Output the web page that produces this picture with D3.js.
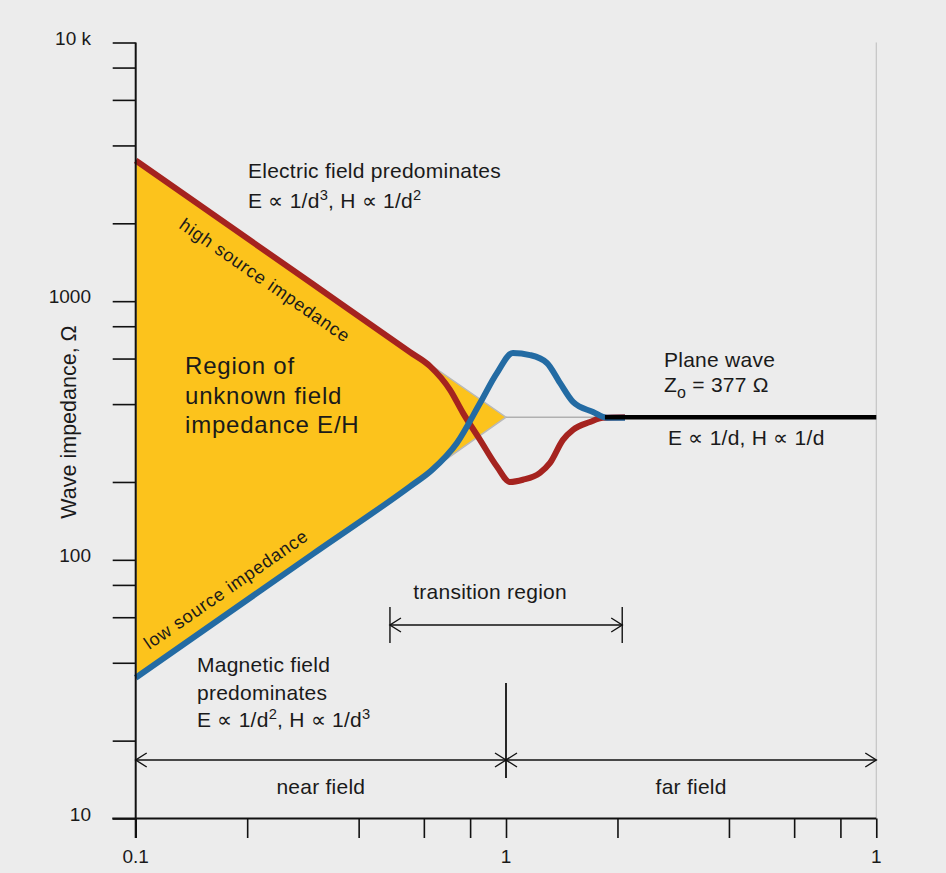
<!DOCTYPE html>
<html><head><meta charset="utf-8">
<script src="https://cdn.jsdelivr.net/npm/d3@7"></script>
<style>
body{margin:0;background:#ececec}
text{font-family:"Liberation Sans",Arial,Helvetica,sans-serif;fill:#1a1a1a}
</style>
</head><body>
<svg id="chart" width="946" height="873"></svg>
<script>
// ---- data ----
const xTickValues = [0.1,0.2,0.4,0.6,0.8,1,2,4,6,8,10];
const xLabelValues = [0.1,1,10];
const xLabelTexts = ["0.1","1","1"];
const yTickValues = [10,20,40,60,80,100,200,400,600,800,1000,2000,4000,6000,8000,10000];
const yLabelValues = [10,100,1000,10000];
const yLabelTexts = ["10","100","1000","10 k"];

const regionDistance = [0.1, 1, 0.1];
const regionImpedance = [3500, 356, 35];

const highSourceDistance = [0.1, 0.3, 0.55, 0.623, 0.706, 0.765, 0.851, 0.946, 1.025, 1.111, 1.235, 1.315, 1.425, 1.517, 1.686, 1.827, 2.096];
const highSourceImpedance = [3500, 1167, 636, 561, 454, 370, 291, 229, 200, 204, 217, 237, 291, 318, 341, 354, 356];

const lowSourceDistance = [0.1, 0.3, 0.55, 0.63, 0.737, 0.851, 0.946, 1.044, 1.161, 1.290, 1.399, 1.517, 1.718, 1.874, 2.096];
const lowSourceImpedance = [35, 105, 192, 222, 283, 404, 528, 631, 619, 577, 483, 408, 373, 354, 354];

const planeWaveDistance = [1.85, 10];
const planeWaveImpedance = [356, 356];
const guideDistance = [1, 1.9];
const guideImpedance = [356, 356];

const transitionRange = [0.486, 2.06];
const fieldBoundaries = [0.1, 1, 10];

// ---- setup ----
const svg = d3.select("#chart");
svg.append("rect").attr("width",946).attr("height",873).attr("fill","#ececec");

const x = d3.scaleLog().domain([0.1,10]).range([135.7,876.3]);
const y = d3.scaleLog().domain([10,10000]).range([818.5,42.5]);

const RED = "#a5231f", BLUE = "#236ba3", YELLOW = "#fcc31c";

// right border
svg.append("line").attr("x1",x(10)).attr("x2",x(10)).attr("y1",y(10000)).attr("y2",838)
  .attr("stroke","#c4c4c4").attr("stroke-width",1.2);

// region fill
const pts = (xs, ys) => xs.map((d,i)=>[x(d), y(ys[i])]);
svg.append("path").attr("d", d3.line()(pts(regionDistance, regionImpedance)) + "Z")
  .attr("fill", YELLOW).attr("stroke","#b9b9b9").attr("stroke-width",1.5);

// guide line
svg.append("path").attr("d", d3.line()(pts(guideDistance, guideImpedance)))
  .attr("stroke","#b0b0b0").attr("stroke-width",1.5).attr("fill","none");

const curve = d3.line().curve(d3.curveMonotoneX);
svg.append("path").attr("d", curve(pts(highSourceDistance, highSourceImpedance)))
  .attr("stroke",RED).attr("stroke-width",6).attr("fill","none").attr("stroke-linejoin","round");
svg.append("path").attr("d", curve(pts(lowSourceDistance, lowSourceImpedance)))
  .attr("stroke",BLUE).attr("stroke-width",6).attr("fill","none").attr("stroke-linejoin","round");
svg.append("path").attr("d", d3.line()(pts(planeWaveDistance, planeWaveImpedance)))
  .attr("stroke","#000").attr("stroke-width",4.5).attr("fill","none");

// ---- axes ----
const yAxis = d3.axisLeft(y).tickValues(yTickValues).tickSize(23).tickSizeOuter(0).tickFormat("");
const gy = svg.append("g").attr("transform",`translate(${x(0.1)},0)`).call(yAxis);
gy.select(".domain").remove();
gy.selectAll(".tick line").attr("stroke","#111").attr("stroke-width",1.6);

const xAxis = d3.axisBottom(x).tickValues(xTickValues).tickSize(19.5).tickSizeOuter(0).tickFormat("");
const gx = svg.append("g").attr("transform",`translate(0,${y(10)})`).call(xAxis);
gx.select(".domain").remove();
gx.selectAll(".tick line").attr("stroke","#111").attr("stroke-width",1.6);

svg.append("line").attr("x1",x(0.1)).attr("x2",x(0.1)).attr("y1",y(10000)).attr("y2",838)
  .attr("stroke","#111").attr("stroke-width",2);
svg.append("line").attr("x1",x(0.1)-23.4).attr("x2",x(10)).attr("y1",y(10)).attr("y2",y(10))
  .attr("stroke","#111").attr("stroke-width",2);

svg.selectAll(".ylab").data(yLabelValues).enter().append("text")
  .attr("x",91).attr("y",d=>y(d)+2).attr("text-anchor","end")
  .attr("font-size",19).text((d,i)=>yLabelTexts[i]);
svg.selectAll(".xlab").data(xLabelValues).enter().append("text")
  .attr("x",d=>x(d)).attr("y",863).attr("text-anchor","middle")
  .attr("font-size",19).text((d,i)=>xLabelTexts[i]);

svg.append("text").attr("transform","translate(76,422) rotate(-90)")
  .attr("text-anchor","middle").attr("font-size",21.5)
  .text("Wave impedance, \u03A9");

// ---- arrows ----
function chevron(px, py, dir){
  const L = 11, H = 7;
  svg.append("path").attr("d",`M${px - dir*L},${py-H} L${px},${py} L${px - dir*L},${py+H}`)
    .attr("stroke","#111").attr("stroke-width",1.4).attr("fill","none");
}
function hline(x1,x2,yy){
  svg.append("line").attr("x1",x1).attr("x2",x2).attr("y1",yy).attr("y2",yy)
    .attr("stroke","#111").attr("stroke-width",1.4);
}
function vline(xx,y1,y2,w){
  svg.append("line").attr("x1",xx).attr("x2",xx).attr("y1",y1).attr("y2",y2)
    .attr("stroke","#111").attr("stroke-width",w||1.4);
}
// transition region
const t0 = x(transitionRange[0]), t1 = x(transitionRange[1]);
hline(t0, t1, 625); vline(t0, 607, 643); vline(t1, 607, 643);
chevron(t0, 625, -1); chevron(t1, 625, 1);
// near / far field
const f0 = x(fieldBoundaries[0]), f1 = x(fieldBoundaries[1]), f2 = x(fieldBoundaries[2]);
hline(f0, f2, 760);
vline(f1, 683, 778, 1.8);
chevron(f0, 760, -1); chevron(f1, 760, 1); chevron(f1, 760, -1); chevron(f2, 760, 1);

// ---- annotations ----
const FS = 21, LS = 0.25;
function label(tx, ty, lines, lh){
  const t = svg.append("text").attr("x",tx).attr("y",ty).attr("font-size",FS).attr("letter-spacing",LS);
  lines.forEach((ln,i)=>{
    const ts = t.append("tspan").attr("x",tx).attr("dy", i===0?0:lh);
    ln.forEach(part=>{
      const s = ts.append("tspan").text(part.t);
      if(part.sup) s.attr("baseline-shift","super").attr("font-size",FS*0.7);
    });
  });
  return t;
}
label(248, 178, [[{t:"Electric field predominates"}],
                 [{t:"E \u221D 1/d"},{t:"3",sup:1},{t:", H \u221D 1/d"},{t:"2",sup:1}]], 30);

label(197, 672, [[{t:"Magnetic field"}],[{t:"predominates"}],
                 [{t:"E \u221D 1/d"},{t:"2",sup:1},{t:", H \u221D 1/d"},{t:"3",sup:1}]], 27.5);

// Region text
const rg = svg.append("text").attr("font-size",24).attr("letter-spacing",0.8);
["Region of","unknown field","impedance E/H"].forEach((s,i)=>{
  rg.append("tspan").attr("x",185).attr("y",374+i*29.5).text(s);
});

// plane wave
label(664, 367, [[{t:"Plane wave"}]], 0);
const zt = svg.append("text").attr("x",664).attr("y",392).attr("font-size",FS).attr("letter-spacing",LS);
zt.append("tspan").text("Z");
zt.append("tspan").attr("dy",6).attr("font-size",16).text("o");
zt.append("tspan").attr("dy",-6).text(" = 377 \u03A9");
label(668, 445, [[{t:"E \u221D 1/d, H \u221D 1/d"}]], 0);

// transition & field labels
svg.append("text").attr("x",(t0+t1)/2 - 16).attr("y",599).attr("text-anchor","middle")
  .attr("font-size",FS).attr("letter-spacing",LS).text("transition region");
svg.append("text").attr("x",(f0+f1)/2).attr("y",794).attr("text-anchor","middle")
  .attr("font-size",FS).attr("letter-spacing",LS).text("near field");
svg.append("text").attr("x",(f1+f2)/2).attr("y",794).attr("text-anchor","middle")
  .attr("font-size",FS).attr("letter-spacing",LS).text("far field");

// rotated source labels
const ang = Math.atan2(y(356)-y(3500), x(1)-x(0.1)) * 180/Math.PI;
svg.append("text").attr("transform",`translate(${x(0.1)},${y(3500)}) rotate(${ang})`)
  .attr("x",73).attr("y",31).attr("font-size",18).attr("letter-spacing",0.8).text("high source impedance");
svg.append("text").attr("transform",`translate(${x(0.1)},${y(35)}) rotate(${-ang})`)
  .attr("x",27).attr("y",-15).attr("font-size",18).attr("letter-spacing",0.8).text("low source impedance");
</script>
</body></html>
